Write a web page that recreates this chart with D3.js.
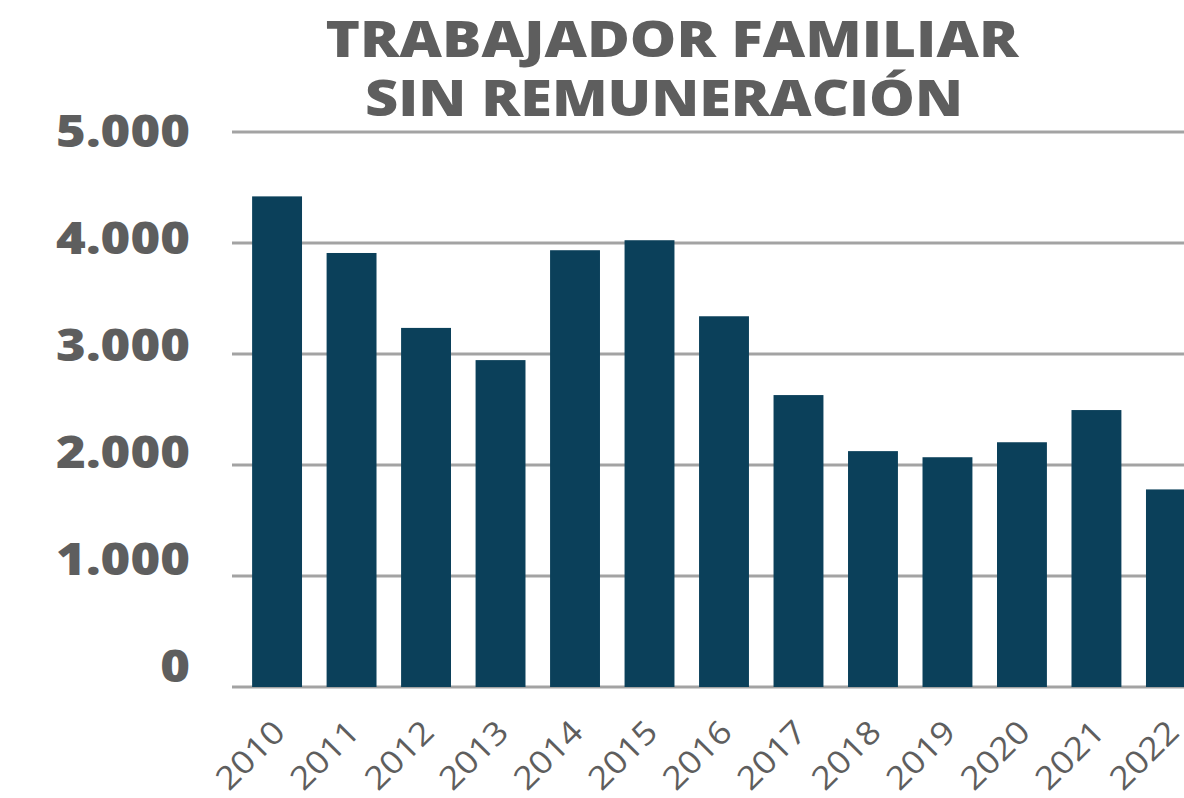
<!DOCTYPE html>
<html>
<head>
<meta charset="utf-8">
<script src="https://cdn.jsdelivr.net/npm/d3@7"></script>
<style>
  body { margin: 0; background: #fff; }
  svg { display: block; }
</style>
</head>
<body>
<script>
// data
var years = ['2010','2011','2012','2013','2014','2015','2016','2017','2018','2019','2020','2021','2022'];
var values = [4420, 3910, 3235, 2945, 3935, 4025, 3340, 2630, 2125, 2070, 2205, 2495, 1780];
var yTicks = [0, 1000, 2000, 3000, 4000, 5000];
var titleLines = ['TRABAJADOR FAMILIAR', 'SIN REMUNERACIÓN'];

var width = 1184, height = 798;
var textColor = '#5e5e5e', barColor = '#0b405a', gridColor = '#a3a3a3';
var font = "'Open Sans', sans-serif";

var svg = d3.select('body').append('svg')
    .attr('width', width)
    .attr('height', height);

//scales
var yScale = d3.scaleLinear().domain([0, 5000]).range([687, 132]);
// labels sit a bit above their gridlines, more so at the bottom
var yLabelScale = d3.scaleLinear().domain([0, 5000]).range([666, 131]);
var xScale = d3.scaleBand().domain(years).range([232, 1216])
    .paddingInner(0.33).paddingOuter(0.27);

var fmt = function(v) { return d3.format(',')(v).replace(/,/g, '.'); };

//gridlines
svg.append('g').selectAll('line')
    .data(yTicks)
    .enter().append('line')
    .attr('x1', 232).attr('x2', width)
    .attr('y1', function(d) { return yScale(d); })
    .attr('y2', function(d) { return yScale(d); })
    .attr('stroke', gridColor)
    .attr('stroke-width', 3);

//y labels, stretched a little to get the wide look of the original
svg.append('g').selectAll('text')
    .data(yTicks)
    .enter().append('text')
    .attr('x', 190)
    .attr('y', function(d) { return yLabelScale(d); })
    .attr('dy', '0.35em')
    .attr('text-anchor', 'end')
    .attr('font-family', font)
    .attr('font-weight', 800)
    .attr('font-size', 45)
    .attr('fill', textColor)
    .text(fmt)
    .each(function() {
        var w = this.getComputedTextLength();
        d3.select(this).attr('textLength', w * 1.13).attr('lengthAdjust', 'spacingAndGlyphs');
    });

//bars
svg.append('g').selectAll('rect')
    .data(years)
    .enter().append('rect')
    .attr('x', function(d) { return xScale(d); })
    .attr('width', xScale.bandwidth())
    .attr('y', function(d, i) { return yScale(values[i]); })
    .attr('height', function(d, i) { return yScale(0) - yScale(values[i]); })
    .attr('fill', barColor);

//x labels
svg.append('g').selectAll('text')
    .data(years)
    .enter().append('text')
    .attr('transform', function(d) {
        var cx = xScale(d) + xScale.bandwidth() / 2 + 10;
        return 'translate(' + cx + ',734) rotate(-45)';
    })
    .attr('text-anchor', 'end')
    .attr('font-family', font)
    .attr('font-weight', 500)
    .attr('font-size', 32)
    .attr('fill', textColor)
    .attr('textLength', 82)
    .attr('lengthAdjust', 'spacingAndGlyphs')
    .text(function(d) { return d; });

//title, both lines in one text element
svg.append('text')
    .attr('text-anchor', 'middle')
    .attr('font-family', font)
    .attr('font-weight', 800)
    .attr('font-size', 50)
    .attr('fill', textColor)
    .selectAll('tspan')
    .data(titleLines)
    .enter().append('tspan')
    .attr('x', function(d, i) { return i === 0 ? 672 : 664; })
    .attr('y', function(d, i) { return i === 0 ? 57 : 116; })
    .attr('textLength', function(d, i) { return i === 0 ? 693 : 598; })
    .attr('lengthAdjust', 'spacingAndGlyphs')
    .text(function(d) { return d; });
</script>
</body>
</html>
